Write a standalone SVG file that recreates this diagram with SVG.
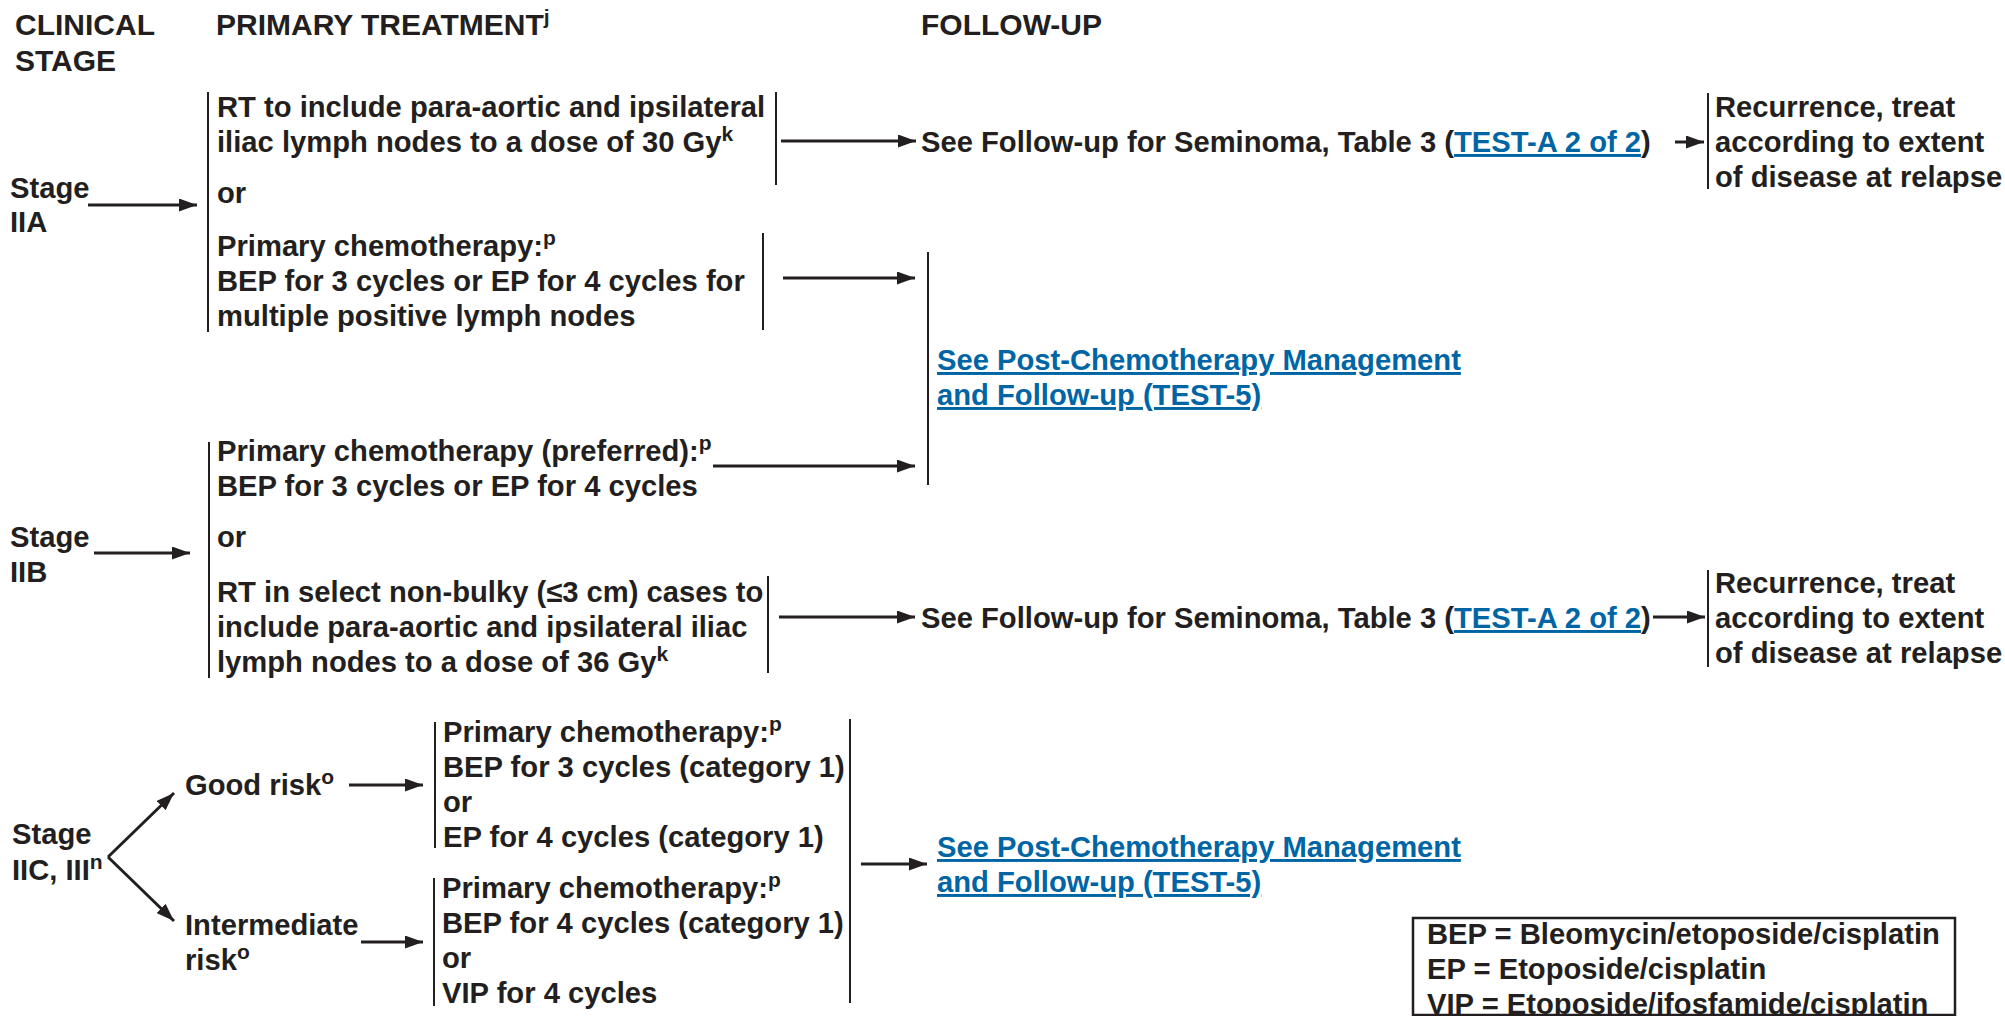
<svg xmlns="http://www.w3.org/2000/svg" width="2005" height="1016" viewBox="0 0 2005 1016">
<defs>
<marker id="ah" markerUnits="userSpaceOnUse" markerWidth="18" markerHeight="13" refX="18" refY="6.5" orient="auto"><path d="M0,0 L18,6.5 L0,13 z" fill="#231f20"/></marker>
</defs>
<style>
text{font-family:"Liberation Sans",Arial,Helvetica,sans-serif;font-weight:bold;font-size:29.2px;fill:#231f20}
.h{font-size:30px}
.lk{fill:#0065a4;text-decoration:underline}
.sup{font-size:21px}
.bar{stroke:#231f20;stroke-width:2;fill:none}
.arr{stroke:#231f20;stroke-width:3;fill:none;marker-end:url(#ah)}
.box{stroke:#231f20;stroke-width:2.5;fill:#fff}
</style>
<rect width="2005" height="1016" fill="#fff"/>

<g id="headers">
<text class="h" x="15" y="35">CLINICAL</text>
<text class="h" x="15" y="71">STAGE</text>
<text class="h" x="216" y="35">PRIMARY TREATMENT<tspan class="sup" dy="-11">j</tspan></text>
<text class="h" x="921" y="35">FOLLOW-UP</text>
</g>

<g id="stage-iia">
<text x="10" y="198">Stage</text>
<text x="10" y="232">IIA</text>
</g>

<g id="iia-treatment">
<path class="bar" d="M208,92 V332"/>
<path class="bar" d="M776,92 V185"/>
<path class="bar" d="M763,233 V330"/>
<text x="217" y="117">RT to include para-aortic and ipsilateral</text>
<text x="217" y="152">iliac lymph nodes to a dose of 30 Gy<tspan class="sup" dy="-11">k</tspan></text>
<text x="217" y="203">or</text>
<text x="217" y="256">Primary chemotherapy:<tspan class="sup" dy="-11">p</tspan></text>
<text x="217" y="291">BEP for 3 cycles or EP for 4 cycles for</text>
<text x="217" y="326">multiple positive lymph nodes</text>
</g>

<g id="followup-1">
<text x="921" y="152">See Follow-up for Seminoma, Table 3 (<tspan class="lk">TEST-A 2 of 2</tspan>)</text>
</g>

<g id="recurrence-1">
<path class="bar" d="M1708,93 V189"/>
<text x="1715" y="117">Recurrence, treat</text>
<text x="1715" y="152">according to extent</text>
<text x="1715" y="187">of disease at relapse</text>
</g>

<g id="post-chemo-1">
<path class="bar" d="M928,252 V485"/>
<text class="lk" x="937" y="370">See Post-Chemotherapy Management</text>
<text class="lk" x="937" y="405">and Follow-up (TEST-5)</text>
</g>

<g id="stage-iib">
<text x="10" y="547">Stage</text>
<text x="10" y="582">IIB</text>
</g>

<g id="iib-treatment">
<path class="bar" d="M209,442 V678"/>
<path class="bar" d="M768,576 V673"/>
<text x="217" y="461">Primary chemotherapy (preferred):<tspan class="sup" dy="-11">p</tspan></text>
<text x="217" y="496">BEP for 3 cycles or EP for 4 cycles</text>
<text x="217" y="547">or</text>
<text x="217" y="602">RT in select non-bulky (≤3 cm) cases to</text>
<text x="217" y="637">include para-aortic and ipsilateral iliac</text>
<text x="217" y="672">lymph nodes to a dose of 36 Gy<tspan class="sup" dy="-11">k</tspan></text>
</g>

<g id="followup-2">
<text x="921" y="628">See Follow-up for Seminoma, Table 3 (<tspan class="lk">TEST-A 2 of 2</tspan>)</text>
</g>

<g id="recurrence-2">
<path class="bar" d="M1708,570 V667"/>
<text x="1715" y="593">Recurrence, treat</text>
<text x="1715" y="628">according to extent</text>
<text x="1715" y="663">of disease at relapse</text>
</g>

<g id="stage-iic">
<text x="12" y="844">Stage</text>
<text x="12" y="880">IIC, III<tspan class="sup" dy="-11">n</tspan></text>
</g>

<g id="good-risk">
<text x="185" y="795">Good risk<tspan class="sup" dy="-11">o</tspan></text>
</g>

<g id="intermediate-risk">
<text x="185" y="935">Intermediate</text>
<text x="185" y="970">risk<tspan class="sup" dy="-11">o</tspan></text>
</g>

<g id="good-risk-treatment">
<path class="bar" d="M435,722 V848"/>
<text x="443" y="742">Primary chemotherapy:<tspan class="sup" dy="-11">p</tspan></text>
<text x="443" y="777">BEP for 3 cycles (category 1)</text>
<text x="443" y="812">or</text>
<text x="443" y="847">EP for 4 cycles (category 1)</text>
</g>

<g id="intermediate-risk-treatment">
<path class="bar" d="M434,878 V1006"/>
<text x="442" y="898">Primary chemotherapy:<tspan class="sup" dy="-11">p</tspan></text>
<text x="442" y="933">BEP for 4 cycles (category 1)</text>
<text x="442" y="968">or</text>
<text x="442" y="1003">VIP for 4 cycles</text>
</g>

<g id="post-chemo-2">
<path class="bar" d="M850,719 V1003"/>
<text class="lk" x="937" y="857">See Post-Chemotherapy Management</text>
<text class="lk" x="937" y="892">and Follow-up (TEST-5)</text>
</g>

<g id="legend">
<rect class="box" x="1413" y="918" width="542" height="97"/>
<text x="1427" y="944">BEP = Bleomycin/etoposide/cisplatin</text>
<text x="1427" y="979">EP = Etoposide/cisplatin</text>
<text x="1427" y="1014">VIP = Etoposide/ifosfamide/cisplatin</text>
</g>

<g id="connectors">
<path class="arr" d="M88,205 H197"/>
<path class="arr" d="M781,141 H916"/>
<path class="arr" d="M1675,142 H1704"/>
<path class="arr" d="M783,278 H915"/>
<path class="arr" d="M713,466 H915"/>
<path class="arr" d="M94,553 H190"/>
<path class="arr" d="M779,617 H915"/>
<path class="arr" d="M1653,617 H1705"/>
<path class="arr" d="M108,857 L174,793"/>
<path class="arr" d="M108,857 L174,921"/>
<path class="arr" d="M349,785 H423"/>
<path class="arr" d="M361,942 H423"/>
<path class="arr" d="M861,864 H927"/>
</g>
</svg>
